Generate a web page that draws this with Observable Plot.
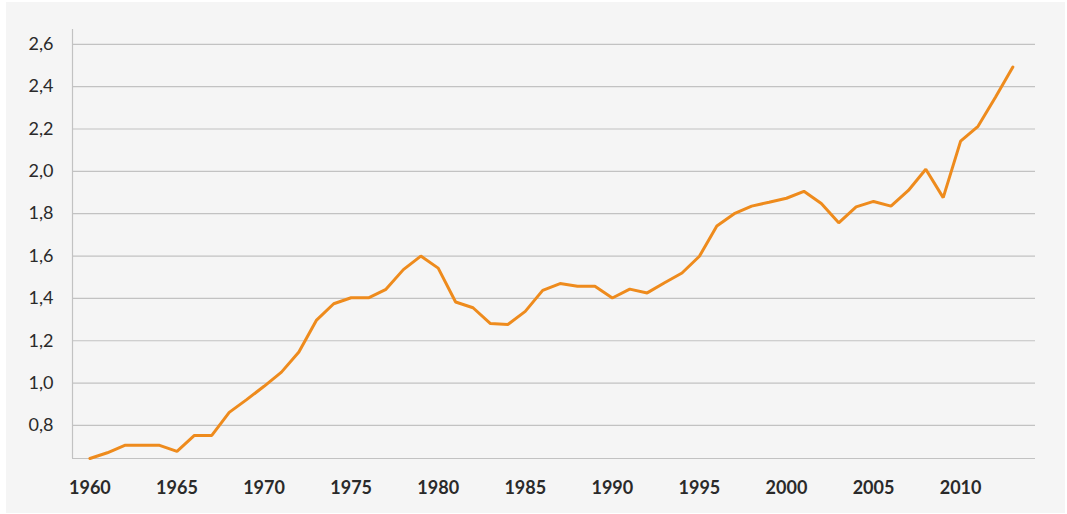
<!DOCTYPE html>
<html>
<head>
<meta charset="utf-8">
<script src="https://cdn.jsdelivr.net/npm/d3@7"></script>
<script src="https://cdn.jsdelivr.net/npm/@observablehq/plot@0.6"></script>
<style>
  html, body { margin: 0; padding: 0; background: #ffffff; }
  #panel { position: absolute; left: 6px; top: 2px; width: 1059px; height: 511px; background: #f5f5f5; }
  #chart { position: absolute; left: 0; top: 0; }
</style>
</head>
<body>
<div id="panel"></div>
<div id="chart"></div>
<script>
const years = [1960,1961,1962,1963,1964,1965,1966,1967,1968,1969,
  1970,1971,1972,1973,1974,1975,1976,1977,1978,1979,
  1980,1981,1982,1983,1984,1985,1986,1987,1988,1989,
  1990,1991,1992,1993,1994,1995,1996,1997,1998,1999,
  2000,2001,2002,2003,2004,2005,2006,2007,2008,2009,
  2010,2011,2012,2013];
const values = [0.644,0.671,0.706,0.706,0.706,0.678,0.753,0.753,0.862,0.922,
  0.985,1.052,1.147,1.296,1.375,1.403,1.403,1.443,1.536,1.600,
  1.543,1.383,1.356,1.281,1.277,1.339,1.438,1.470,1.457,1.457,
  1.402,1.444,1.426,1.474,1.520,1.599,1.742,1.800,1.836,1.854,
  1.873,1.906,1.848,1.757,1.832,1.858,1.836,1.910,2.010,1.876,
  2.143,2.213,2.350,2.493];
const yTicks = [0.8,1.0,1.2,1.4,1.6,1.8,2.0,2.2,2.4,2.6];
const xTicks = [1960,1965,1970,1975,1980,1985,1990,1995,2000,2005,2010];
const xDomain = [1959.0, 2014.3];
const yDomain = [0.644, 2.67];

const data = years.map((y, i) => ({year: y, value: values[i]}));

const chart = Plot.plot({
  width: 1067,
  height: 514,
  marginLeft: 72,
  marginRight: 32,
  marginTop: 29,
  marginBottom: 56,
  style: {background: "transparent", fontFamily: "Lato, 'Open Sans', sans-serif", color: "#2a2a2a"},
  x: {domain: xDomain},
  y: {domain: yDomain},
  marks: [
    Plot.gridY(yTicks, {stroke: "#c2c2c2", strokeOpacity: 1, strokeWidth: 1.2}),
    Plot.ruleX([xDomain[0]], {stroke: "#c2c2c2", strokeWidth: 1.2}),
    Plot.ruleY([yDomain[0]], {stroke: "#c2c2c2", strokeWidth: 1.2}),
    Plot.axisY(yTicks, {tickSize: 0, tickPadding: 19, fontSize: 18, fill: "#2a2a2a",
      tickFormat: d => d.toFixed(1).replace(".", ","), label: null}),
    Plot.axisX(xTicks, {tickSize: 0, tickPadding: 23, fontSize: 18, fontWeight: "bold", fill: "#2a2a2a",
      tickFormat: d => String(d), label: null}),
    Plot.line(data, {x: "year", y: "value", stroke: "#ee8b1d", strokeWidth: 3, strokeLinejoin: "miter"})
  ]
});
document.getElementById("chart").appendChild(chart);
</script>
</body>
</html>
